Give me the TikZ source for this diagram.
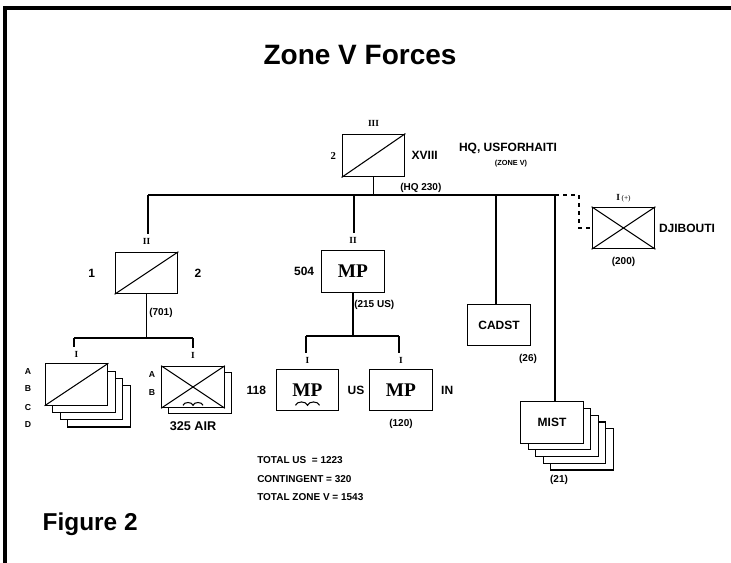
\documentclass[tikz,border=0pt]{standalone}
\usepackage{fontspec}
\setmainfont{Liberation Sans}
\newfontfamily\serifb{Liberation Serif}
\usepackage{tikz}
\usetikzlibrary{positioning, calc}
\newcommand{\fsz}[1]{\fontsize{#1}{#1}\selectfont}

\begin{document}
\begin{tikzpicture}[
        x=0.75pt, y=-0.75pt,
        unitbox/.style={rectangle, draw=black, fill=white, line width=0.9pt, minimum width=47pt, minimum height=31pt, inner sep=0pt},
        bigtxt/.style={font=\bfseries\fsz{9}, inner sep=0pt},
        smalltxt/.style={font=\bfseries\fsz{7.5}, inner sep=0pt},
        echelon/.style={font=\serifb\bfseries\fsz{7}, inner sep=0pt},
        mptxt/.style={font=\serifb\bfseries\fsz{14.5}},
        link/.style={line width=0.8pt}
    ]

    \useasboundingbox (0,0) rectangle (731,563);
    % Frame
    \draw[line width=2.3pt] (5,563) -- (5,8) -- (731,8);

    % Titles
    \node (title) [font=\bfseries\fsz{21}, anchor=base] at (360,65) {Zone V Forces};
    \node (fig) [font=\bfseries\fsz{18.3}, anchor=base west] at (38,530) {Figure 2};

    % HQ
    \node (corps) [unitbox, minimum height=32pt] at (373.5,155.5) {};
    \draw[link] (corps.south west) -- (corps.north east);
    \node (corpsech) [echelon, above=5pt of corps] {III};
    \node (corpsnum) [font=\serifb\bfseries\fsz{8}, inner sep=0pt, left=4pt of corps] {2};
    \node (corpsname) [bigtxt, right=4.5pt of corps] {XVIII};
    \node (corpsstr) [smalltxt, anchor=west] at (400,188) {(HQ 230)};
    \node (hq) [bigtxt] at (508,148) {HQ, USFORHAITI};
    \node (zone) [font=\bfseries\fsz{5.5}, inner sep=0pt] at (511,164) {(ZONE V)};

    % Main line
    \coordinate (jL) at (148,195);
    \coordinate (jM) at (354,195);
    \coordinate (jHQ) at (373.5,195);
    \coordinate (jC) at (496,195);
    \coordinate (jR) at (555,195);
    \draw[link] (jL) -- (jR);
    \draw[link] (corps.south) -- (jHQ);

    % Left brigade
    \node (bde) [unitbox] at (146.5,273) {};
    \draw[link] (bde.south west) -- (bde.north east);
    \node (bdeech) [echelon, above=5pt of bde] {II};
    \node (bdel) [bigtxt, left=14.5pt of bde] {1};
    \node (bder) [bigtxt, right=12pt of bde] {2};
    \node (bdestr) [smalltxt, anchor=west] at (149,313) {(701)};
    \draw[link, shorten >=3pt] (jL) -- (jL |- bdeech.north);
    \coordinate (bL) at (74,338);
    \coordinate (bR) at (193,338);
    \draw[link] (bde.south) -- (bde.south |- bL);
    \draw[link] (bL) -- (bR);

    % Companies A-D
    \foreach \k in {3,2,1}
        \node (co\k) [unitbox] at (76.5+7.5*\k, 384.5+7.3*\k) {};
    \node (co) [unitbox] at (76.5,384.5) {};
    \draw[link] (co.south west) -- (co.north east);
    \node (coech) [echelon, above=4pt of co] {I};
    \draw[link, shorten >=3pt] (bL) -- (bL |- coech.north);
    \foreach \l/\y in {A/372,B/389,C/408,D/425}
        \node (col\l) [font=\bfseries\fsz{6.5}, inner sep=0pt] at (28,\y) {\l};

    % 325 AIR
    \node (air1) [unitbox] at (200,393) {};
    \node (air) [unitbox] at (193,387) {};
    \draw[link] (air.south west) -- (air.north east);
    \draw[link] (air.north west) -- (air.south east);
    \draw[link] ([shift={(-10,-3)}]air.south) to[out=70,in=110] ([shift={(0,-3)}]air.south)
        to[out=70,in=110] ([shift={(10,-3)}]air.south);
    \node (airech) [echelon, above=5pt of air] {I};
    \draw[link, shorten >=3pt] (bR) -- (bR |- airech.north);
    \node (airA) [font=\bfseries\fsz{6.5}, inner sep=0pt] at (152,375) {A};
    \node (airB) [font=\bfseries\fsz{6.5}, inner sep=0pt] at (152,393) {B};
    \node (airname) [font=\bfseries\fsz{9.5}, inner sep=0pt] at (193,426) {325 AIR};

    % MP battalion
    \node (mpbn) [unitbox, mptxt] at (353,271.5) {MP};
    \node (mpbnech) [echelon, above=5pt of mpbn] {II};
    \node (mpbnnum) [bigtxt, left=5pt of mpbn] {504};
    \node (mpbnstr) [smalltxt, anchor=west] at (354,305) {(215 US)};
    \draw[link, shorten >=3pt] (jM) -- (jM |- mpbnech.north);
    \coordinate (mL) at (306,336);
    \coordinate (mR) at (399,336);
    \draw[link] (mpbn.south) -- (mpbn.south |- mL);
    \draw[link] (mL) -- (mR);

    % MP companies
    \node (mpus) [unitbox, mptxt] at (307.5,390) {MP};
    \draw[link] ([shift={(-12,-6)}]mpus.south) to[out=70,in=110] ([shift={(0,-6)}]mpus.south)
        to[out=70,in=110] ([shift={(12,-6)}]mpus.south);
    \node (mpusech) [echelon, above=4pt of mpus] {I};
    \node (mpusnum) [bigtxt, left=7pt of mpus] {118};
    \node (mpusname) [bigtxt, right=6pt of mpus] {US};
    \node (mpin) [unitbox, mptxt] at (401,390) {MP};
    \node (mpinech) [echelon, above=4pt of mpin] {I};
    \node (mpinname) [bigtxt, right=6pt of mpin] {IN};
    \node (mpinstr) [smalltxt, below=6pt of mpin] {(120)};
    \draw[link, shorten >=3pt] (mL) -- (mL |- mpusech.north);
    \draw[link, shorten >=3pt] (mR) -- (mR |- mpinech.north);

    % Totals
    \node (totus) [smalltxt, anchor=west] at (257,460) {TOTAL US \ = 1223};
    \node (contg) [smalltxt, anchor=west] at (257,479) {CONTINGENT = 320};
    \node (totzone) [smalltxt, anchor=west] at (257,497) {TOTAL ZONE V = 1543};

    % CADST
    \node (cadst) [unitbox, bigtxt] at (499,325) {CADST};
    \draw[link] (jC) -- (jC |- cadst.north);
    \node (cadststr) [smalltxt] at (528,359) {(26)};

    % MIST
    \foreach \k in {4,3,2,1}
        \node (mist\k) [unitbox] at (552+7.5*\k, 422.5+6.7*\k) {};
    \node (mist) [unitbox, bigtxt] at (552,422.5) {MIST};
    \draw[link] (jR) -- (jR |- mist.north);
    \node (miststr) [smalltxt] at (559,480) {(21)};

    % Djibouti
    \node (dji) [unitbox] at (623.5,228) {};
    \draw[link] (dji.south west) -- (dji.north east);
    \draw[link] (dji.north west) -- (dji.south east);
    \node (djiech) [echelon, above=3pt of dji] {I\,{\mdseries\fsz{5.5}(+)}};
    \node (djiname) [bigtxt, right=2.5pt of dji] {DJIBOUTI};
    \node (djistr) [smalltxt, below=6pt of dji] {(200)};
    \draw[link, dashed] (jR) -- ++(24,0) |- (dji.west);

\end{tikzpicture}
\end{document}
